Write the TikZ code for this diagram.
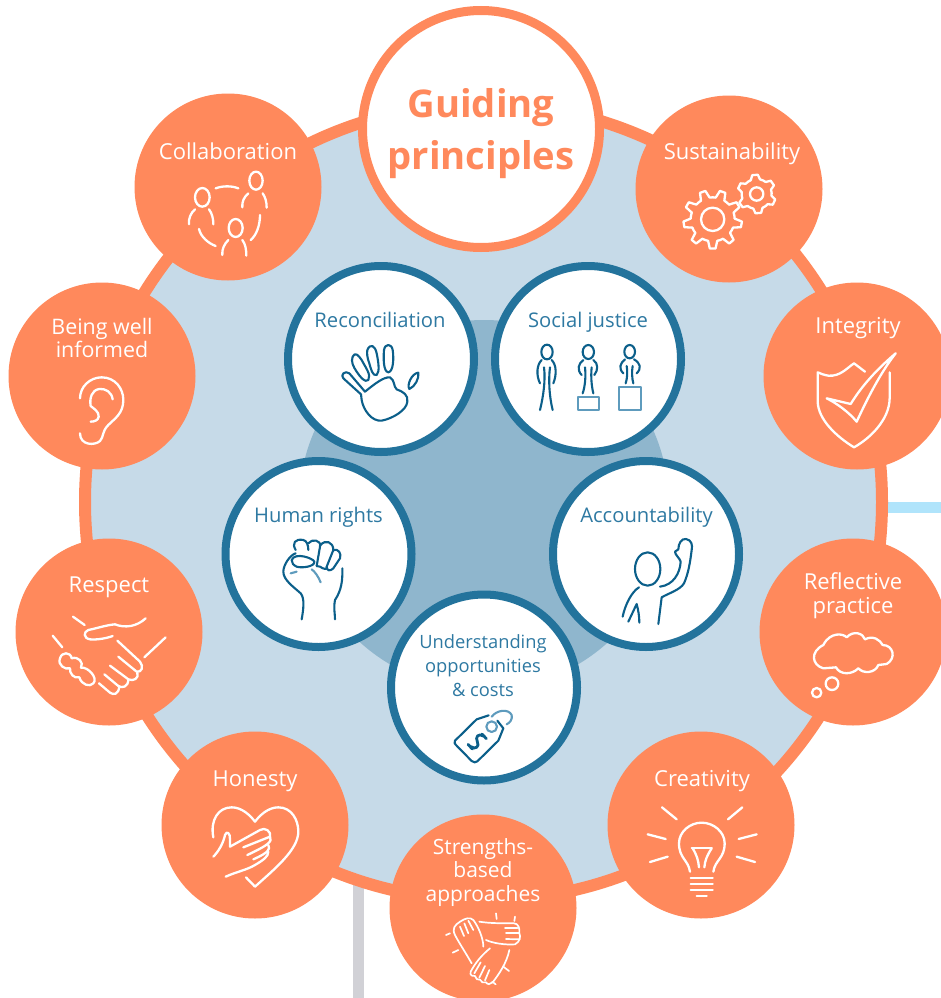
\documentclass[tikz,border=0pt]{standalone}
\usepackage{fontspec}
\setmainfont{Open Sans}
\definecolor{orangeC}{HTML}{FF895C}
\definecolor{ringfill}{HTML}{C6DAE8}
\definecolor{inner}{HTML}{8FB6CD}
\definecolor{bluering}{HTML}{23739C}
\definecolor{bluetext}{HTML}{2E79A2}
\definecolor{iconblue}{HTML}{0B5F8A}
\definecolor{iconpale}{HTML}{5E9BBD}
\definecolor{greybar}{HTML}{D1D1D6}
\definecolor{skybar}{HTML}{B0E4FB}
\tikzset{
  zm/.style 2 args={shift={(#1,#2)},x=0.33333pt,y=-0.33333pt},
  wic/.style={draw=white,line width=2.3pt,line cap=round,line join=round},
  bic/.style={draw=iconblue,line width=2.1pt,line cap=round,line join=round},
  pic/.style={draw=iconpale,line width=2.1pt,line cap=round,line join=round},
  ocirc/.style={circle,fill=orangeC,minimum size=187pt,inner sep=0pt},
  wcirc/.style={circle,fill=white,draw=bluering,line width=8pt,minimum size=186pt,inner sep=0pt},
  otext/.style={text=white,align=center,inner sep=0pt,font=\fontsize{22}{23.5}\selectfont},
  btext/.style={text=bluetext,align=center,inner sep=0pt,font=\fontsize{20.2}{24}\selectfont},
}
\newcommand{\gearicon}[6]{% cx cy rout rroot n rot
  \begin{scope}[shift={(#1,#2)}]
    \pgfmathsetmacro{\gstep}{360/#5}
    \foreach \gi in {1,...,#5}{
      \pgfmathsetmacro{\ga}{#6+\gi*\gstep}
      \pgfmathsetmacro{\gb}{\ga-0.30*\gstep}
      \pgfmathsetmacro{\gc}{\ga-0.14*\gstep}
      \pgfmathsetmacro{\gd}{\ga+0.14*\gstep}
      \pgfmathsetmacro{\ge}{\ga+0.30*\gstep}
      \pgfmathsetmacro{\gf}{\ga+0.50*\gstep}
      \pgfmathsetmacro{\gg}{\ga+0.70*\gstep}
      \draw[wic] (\gb:#4) -- (\gc:#3) -- (\gd:#3) -- (\ge:#4) -- (\gf:#4) -- (\gg:#4);
    }
  \end{scope}
}
\begin{document}
\begin{tikzpicture}[x=1pt,y=-1pt]
\useasboundingbox (0,0) rectangle (941,998);
\clip (0,0) rectangle (941,998);
% background bars
\fill[greybar] (353,880) rectangle (364,998);
\fill[skybar] (880,502) rectangle (941,513);
% ring and inner disc
\node[circle,fill=ringfill,draw=orangeC,line width=12pt,minimum size=797pt,inner sep=0pt] (ring) at (483.5,502) {};
\node[circle,fill=inner,minimum size=370pt,inner sep=0pt] (core) at (484,505) {};
% outer circles
\node[ocirc] (collab) at (228,187) {};
\node[ocirc] (sustain) at (729,189) {};
\node[ocirc] (integ) at (857,376) {};
\node[ocirc] (reflect) at (853,632) {};
\node[ocirc] (creat) at (701,825) {};
\node[ocirc] (strength) at (483,908) {};
\node[ocirc] (honest) at (255,825) {};
\node[ocirc] (respect) at (109,632) {};
\node[ocirc] (informed) at (102,376) {};
\node[circle,fill=white,draw=orangeC,line width=9pt,minimum size=237pt,inner sep=0pt] (guide) at (481,129) {};
% inner circles
\node[wcirc] (recon) at (381,359) {};
\node[wcirc] (social) at (588,359) {};
\node[wcirc] (human) at (318.5,554) {};
\node[wcirc] (account) at (646,554) {};
\node[wcirc] (under) at (484,687.5) {};
% texts
\node[text=orangeC,align=center,inner sep=0pt,font=\bfseries\fontsize{38.2}{51.5}\selectfont] (guidetxt) at (481,133.5) {Guiding\\principles};
\node[otext,anchor=base] (t1) at (228,159) {Collaboration};
\node[otext,anchor=base] (t2) at (732,159) {Sustainability};
\node[otext,anchor=base] (t3) at (858,333) {Integrity};
\node[otext] (t4) at (853,595.5) {Reflective\\practice};
\node[otext,anchor=base] (t5) at (702,786) {Creativity};
\node[otext,font=\fontsize{21}{23.5}\selectfont] (t6) at (483,872.5) {Strengths-\\based\\approaches};
\node[otext,anchor=base] (t7) at (255,786) {Honesty};
\node[otext,anchor=base] (t8) at (109,592) {Respect};
\node[otext,font=\fontsize{21.4}{23}\selectfont] (t9) at (102,338) {Being well\\informed};
\node[btext,anchor=base] (b1) at (380,327) {Reconciliation};
\node[btext,anchor=base] (b2) at (588,327) {Social justice};
\node[btext,anchor=base] (b3) at (318.5,522) {Human rights};
\node[btext,anchor=base] (b4) at (646.5,522) {Accountability};
\node[btext,font=\fontsize{18.3}{24}\selectfont] (b5) at (483,666) {Understanding\\opportunities\\\& costs};
% Collaboration icon
\begin{scope}[zm={130}{90}]
\draw[wic] (217,322) ellipse [x radius=22,y radius=28];
\draw[wic] (378,272) ellipse [x radius=20,y radius=27];
\draw[wic] (317,414) ellipse [x radius=21,y radius=27];
\draw[wic] (177,403) .. controls (175,385) and (183,368) .. (195,358);
\draw[wic] (237,358) .. controls (246,370) and (250,385) .. (250,403);
\draw[wic] (337,352) .. controls (335,335) and (343,320) .. (355,310);
\draw[wic] (398,310) .. controls (406,322) and (410,335) .. (410,353);
\draw[wic] (277,495) .. controls (275,478) and (283,462) .. (295,450);
\draw[wic] (337,450) .. controls (346,462) and (349,478) .. (349,497);
\draw[wic] (257,295) .. controls (278,287) and (305,287) .. (325,295);
\draw[wic] (207,417) .. controls (212,440) and (235,460) .. (257,468);
\draw[wic] (390,375) .. controls (390,405) and (380,435) .. (362,450);
\end{scope}
% Sustainability icon
\begin{scope}[zm={630}{90}]
\gearicon{248}{388}{88}{66}{9}{10}
\draw[wic] (248,388) circle [radius=35];
\gearicon{380}{312}{58}{45}{6}{25}
\draw[wic] (380,312) circle [radius=20];
\end{scope}
% Integrity icon
\begin{scope}[zm={630}{90}]
\draw[wic] (705,845) -- (672,820) .. controls (650,835) and (630,860) .. (595,857) .. controls (582,855) and (572,851) .. (563,847) -- (563,935) .. controls (565,990) and (620,1040) .. (672,1072) .. controls (720,1045) and (778,990) .. (779,925) -- (779,847);
\draw[wic] (590,925) -- (662,942) .. controls (700,880) and (750,830) .. (797,790) .. controls (750,850) and (710,930) .. (680,995) .. controls (655,965) and (620,940) .. (590,925) -- cycle;
\end{scope}
% Ear icon
\begin{scope}[zm={0}{280}]
\draw[wic] (240,355) .. controls (240,320) and (270,292) .. (305,292) .. controls (345,292) and (370,325) .. (370,360) .. controls (370,400) and (345,415) .. (325,435) .. controls (305,455) and (312,470) .. (300,483) .. controls (285,497) and (240,497) .. (240,460);
\draw[wic] (338,358) .. controls (335,335) and (315,325) .. (298,327) .. controls (275,330) and (268,355) .. (272,378) .. controls (280,385) and (298,395) .. (296,410) .. controls (295,420) and (285,425) .. (272,425);
% Handshake icon
\draw[wic] (437,1015) .. controls (410,1040) and (375,1045) .. (345,1033) .. controls (320,1035) and (290,1045) .. (265,1050) .. controls (250,1055) and (250,1075) .. (270,1078) .. controls (290,1080) and (320,1075) .. (338,1068);
\draw[wic] (219,1010) -- (254,1035);
\draw[wic] (158,1067) -- (187,1102);
\draw[wic] (497,1072) -- (433,1132);
\draw[wic] (180,1135) .. controls (185,1115) and (212,1115) .. (215,1135) .. controls (235,1128) and (252,1147) .. (243,1163) .. controls (265,1160) and (295,1195) .. (280,1210) .. controls (270,1222) and (245,1215) .. (238,1192) .. controls (222,1197) and (208,1180) .. (210,1165) .. controls (195,1170) and (172,1155) .. (180,1135) -- cycle;
\draw[wic] (352,1082) -- (420,1145) .. controls (432,1160) and (425,1178) .. (410,1175) -- (355,1130);
\draw[wic] (412,1178) .. controls (418,1195) and (400,1205) .. (385,1198) -- (330,1157);
\draw[wic] (385,1198) .. controls (385,1222) and (365,1225) .. (355,1218) -- (313,1183);
\draw[wic] (358,1220) .. controls (355,1245) and (340,1245) .. (330,1238) -- (297,1210);
\end{scope}
% Honesty icon
\begin{scope}[zm={160}{730}]
\draw[wic] (160,322) .. controls (150,270) and (175,232) .. (215,232) .. controls (245,232) and (270,255) .. (285,275) .. controls (300,255) and (325,232) .. (355,232) .. controls (395,232) and (415,270) .. (415,305) .. controls (415,360) and (340,420) .. (285,470) -- (258,442);
\draw[wic] (160,380) .. controls (175,365) and (190,340) .. (195,315) .. controls (200,300) and (212,310) .. (210,330) -- (210,350) -- (300,300) .. controls (315,290) and (335,305) .. (330,320) -- (250,352);
\draw[wic] (330,320) .. controls (338,335) and (325,345) .. (262,375);
\draw[wic] (325,345) .. controls (332,358) and (325,368) .. (280,388);
\draw[wic] (197,440) .. controls (230,425) and (260,420) .. (285,405) .. controls (310,390) and (325,380) .. (325,365);
\end{scope}
% Creativity icon
\begin{scope}[zm={600}{530}]
\draw[wic] (186,832) -- (230,868);
\draw[wic] (427,832) -- (384,868);
\draw[wic] (143,913) -- (197,927);
\draw[wic] (470,913) -- (416,927);
\draw[wic] (150,996) -- (203,980);
\draw[wic] (465,996) -- (410,980);
\draw[wic] (270,1025) .. controls (265,990) and (237,985) .. (237,940) .. controls (237,905) and (270,878) .. (305,878) .. controls (340,878) and (374,905) .. (374,940) .. controls (374,985) and (345,990) .. (340,1025);
\draw[wic] (275,955) -- (335,955);
\draw[wic] (278,955) .. controls (290,975) and (295,990) .. (297,1012);
\draw[wic] (335,955) .. controls (322,975) and (315,990) .. (313,1012);
\draw[wic] (272,1045) -- (338,1045);
\draw[wic] (272,1062) -- (338,1062);
\draw[wic] (272,1080) -- (338,1080);
\draw[wic] (290,1098) -- (320,1098);
% Reflective icon
\draw[wic] (670,345) .. controls (690,305) and (730,310) .. (740,322) .. controls (760,300) and (790,310) .. (795,328) .. controls (820,315) and (840,330) .. (848,345) .. controls (880,345) and (890,385) .. (860,402) -- (835,405) .. controls (825,430) and (790,432) .. (775,415) .. controls (755,435) and (720,435) .. (708,412) -- (670,415) .. controls (635,405) and (630,365) .. (670,345) -- cycle;
\draw[wic] (696,461) circle [radius=19];
\draw[wic] (650,488) circle [radius=14];
\end{scope}
% Strengths icon
\begin{scope}[zm={440}{905}]
\tikzset{wic/.append style={line width=1.7pt}}
\draw[wic] (118,50) .. controls (150,55) and (185,55) .. (222,55) .. controls (235,55) and (240,70) .. (238,85) .. controls (243,95) and (240,110) .. (225,118) .. controls (195,120) and (160,115) .. (138,105);
\draw[wic] (195,68) -- (232,68);
\draw[wic] (198,85) -- (238,85);
\draw[wic] (198,102) -- (238,103);
\draw[wic] (95,175) .. controls (75,140) and (55,110) .. (45,90) .. controls (35,70) and (45,60) .. (60,50) .. controls (75,40) and (90,35) .. (100,45) .. controls (115,65) and (130,100) .. (130,125);
\draw[wic] (60,65) -- (72,93);
\draw[wic] (73,55) -- (85,85);
\draw[wic] (85,47) -- (100,75);
\draw[wic] (150,130) .. controls (125,150) and (105,175) .. (92,200) .. controls (88,212) and (100,215) .. (105,213) .. controls (105,222) and (115,226) .. (120,224) .. controls (122,232) and (132,235) .. (138,232) .. controls (142,240) and (152,238) .. (158,232) .. controls (175,210) and (200,175) .. (208,135);
\draw[wic] (122,172) -- (103,205);
\draw[wic] (135,183) -- (118,218);
\draw[wic] (148,195) -- (135,226);
\draw[wic] (168,25) -- (170,42);
\draw[wic] (225,35) -- (223,48);
\draw[wic] (18,90) -- (30,85);
\draw[wic] (38,143) -- (55,135);
\draw[wic] (190,185) -- (207,198);
\draw[wic] (157,230) -- (167,238);
\end{scope}
% Reconciliation icon and Social justice icon
\begin{scope}[zm={280}{260}]
\draw[bic] (243,403) -- (190,355) .. controls (180,345) and (195,330) .. (208,340) -- (255,395);
\draw[bic] (218,290) .. controls (225,275) and (235,285) .. (245,300) .. controls (255,320) and (275,345) .. (265,360) .. controls (255,370) and (240,350) .. (230,335) .. controls (220,320) and (212,305) .. (218,290) -- cycle;
\draw[bic] (262,270) .. controls (270,250) and (285,255) .. (290,280) .. controls (295,305) and (300,335) .. (290,345) .. controls (278,350) and (272,325) .. (268,310) .. controls (262,295) and (260,280) .. (262,270) -- cycle;
\draw[bic] (312,270) .. controls (315,250) and (335,250) .. (338,270) .. controls (342,295) and (340,335) .. (325,337) .. controls (310,335) and (310,295) .. (312,270) -- cycle;
\draw[bic] (415,338) .. controls (418,355) and (405,380) .. (388,387) .. controls (380,375) and (395,340) .. (415,338) -- cycle;
\draw[bic] (255,395) .. controls (280,375) and (310,350) .. (330,352) .. controls (345,360) and (340,380) .. (350,388) .. controls (370,395) and (385,405) .. (382,425) .. controls (380,450) and (340,475) .. (305,482) .. controls (275,485) and (250,450) .. (245,420) -- (243,403);
% persons
\draw[bic] (801,276) ellipse [x radius=17,y radius=22];
\draw[bic] (785,300) .. controls (770,315) and (768,345) .. (780,370);
\draw[bic] (815,300) .. controls (830,315) and (830,345) .. (820,370);
\draw[bic] (792,322) .. controls (797,360) and (790,410) .. (780,450);
\draw[bic] (810,322) .. controls (805,360) and (808,410) .. (818,450);
\draw[bic] (925,276) ellipse [x radius=17,y radius=21];
\draw[bic] (910,300) .. controls (895,310) and (890,330) .. (905,345);
\draw[bic] (940,300) .. controls (955,310) and (955,330) .. (943,345);
\draw[bic] (915,322) .. controls (918,350) and (915,380) .. (908,400);
\draw[bic] (935,322) .. controls (932,350) and (935,380) .. (940,400);
\draw[pic] (893,412) rectangle (958,450);
\draw[bic] (1049,275) ellipse [x radius=16,y radius=20];
\draw[bic] (1035,298) .. controls (1020,310) and (1015,325) .. (1030,340);
\draw[bic] (1062,298) .. controls (1082,310) and (1085,325) .. (1070,340);
\draw[bic] (1040,318) .. controls (1043,335) and (1042,355) .. (1037,370);
\draw[bic] (1058,318) .. controls (1055,335) and (1056,355) .. (1060,370);
\draw[pic] (1017,380) rectangle (1082,450);
\end{scope}
% Fist icon
\begin{scope}[zm={270}{530}]
\draw[bic] (77,60) .. controls (65,40) and (75,25) .. (100,30) .. controls (110,32) and (115,45) .. (115,60);
\draw[bic] (115,40) .. controls (125,25) and (155,30) .. (150,50) -- (140,108);
\draw[bic] (152,45) .. controls (165,28) and (190,35) .. (190,60) -- (170,110) .. controls (175,120) and (160,118) .. (150,110) -- (140,108);
\draw[bic] (190,60) .. controls (205,55) and (215,70) .. (210,85) -- (190,115) .. controls (180,125) and (170,122) .. (170,110);
\draw[bic] (65,90) .. controls (75,65) and (130,85) .. (133,95) .. controls (135,110) and (95,115) .. (80,110) .. controls (70,105) and (65,100) .. (65,90) -- cycle;
\draw[bic] (77,70) .. controls (60,75) and (40,105) .. (40,125) .. controls (40,150) and (70,170) .. (92,190) .. controls (105,205) and (100,240) .. (95,268);
\draw[bic] (217,115) .. controls (218,150) and (215,180) .. (195,210) .. controls (190,230) and (195,250) .. (195,268);
\draw[pic] (62,130) -- (80,125);
\draw[pic] (125,118) .. controls (135,125) and (145,140) .. (152,157);
\end{scope}
% Accountability icon
\begin{scope}[zm={610}{530}]
\draw[bic] (113,117) ellipse [x radius=38,y radius=50];
\draw[bic] (87,172) .. controls (65,185) and (45,225) .. (38,260);
\draw[bic] (55,275) -- (80,222) .. controls (85,240) and (88,260) .. (88,278);
\draw[bic] (150,170) .. controls (190,165) and (210,130) .. (212,95) .. controls (210,85) and (195,75) .. (195,65) -- (205,58) .. controls (205,40) and (215,25) .. (228,27) .. controls (245,30) and (248,45) .. (245,60) .. controls (240,100) and (235,130) .. (222,160) .. controls (210,180) and (175,190) .. (155,202) -- (145,282);
\end{scope}
% Tag icon
\begin{scope}[zm={440}{700}]
\draw[pic] (155,80) circle [radius=16];
\draw[pic] (155,50) .. controls (170,30) and (205,25) .. (215,45) .. controls (218,58) and (210,68) .. (200,73);
\draw[bic] (146,46) -- (110,58) -- (45,122) .. controls (42,128) and (44,132) .. (48,135) -- (95,183) .. controls (100,188) and (108,188) .. (112,184) -- (175,122) -- (190,85) -- (172,62);
\draw[bic,line width=2.8pt] (130,108) .. controls (115,98) and (105,112) .. (112,125) .. controls (120,140) and (105,150) .. (93,140);
\draw[bic,line width=2.8pt] (84,133) -- (97,147);
\draw[bic,line width=2.8pt] (126,102) -- (139,116);
\end{scope}
\end{tikzpicture}
\end{document}
